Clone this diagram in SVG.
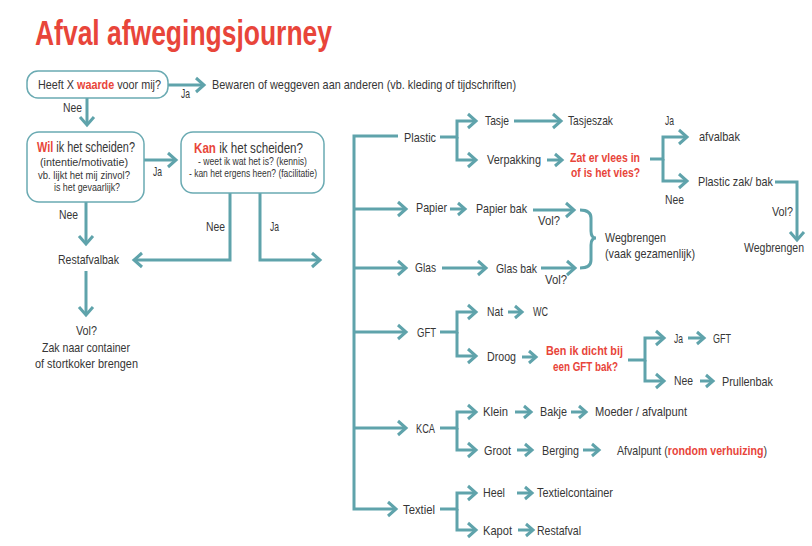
<svg xmlns="http://www.w3.org/2000/svg" width="812" height="546" viewBox="0 0 812 546">
<defs>
<style>
text{font-family:"Liberation Sans",Arial,sans-serif;font-size:13.5px;fill:#363636}
.t{font-size:35px;font-weight:bold;fill:#e8453a}
.r{fill:#e8453a;font-weight:bold}
.s{font-size:11px}
.m{font-size:14.5px}
.box{fill:#fff;stroke:#6aaab2;stroke-width:1.5}
.ln{fill:none;stroke:#5fa3ab;stroke-width:3;stroke-linejoin:miter}
.a{marker-end:url(#ah)}
.b{marker-end:url(#as)}
</style>
<marker id="ah" markerUnits="userSpaceOnUse" markerWidth="16" markerHeight="20" viewBox="-3 -10 16 20" refX="8" refY="0" orient="auto"><path d="M0,-7 L8,0 L0,7" fill="none" stroke="#5fa3ab" stroke-width="3"/></marker>
<marker id="as" markerUnits="userSpaceOnUse" markerWidth="16" markerHeight="20" viewBox="-3 -10 16 20" refX="7" refY="0" orient="auto"><path d="M0,-6 L7,0 L0,6" fill="none" stroke="#5fa3ab" stroke-width="3"/></marker>
</defs>
<rect width="812" height="546" fill="#fff"/>
<text class="t" x="35" y="45" textLength="297" lengthAdjust="spacingAndGlyphs">Afval afwegingsjourney</text>

<g id="connectors">
<path class="ln a" d="M168,85 H204"/>
<path class="ln a" d="M87,98 V125"/>
<path class="ln a" d="M144,160 H176"/>
<path class="ln a" d="M86,202 V244"/>
<path class="ln a" d="M230,193 V260 H134"/>
<path class="ln a" d="M260,193 V260 H320"/>
<path class="ln a" d="M86,271 V315"/>
<path class="ln a" d="M398,136 H354 V509 H396"/>
<path class="ln a" d="M354,209 H406"/>
<path class="ln a" d="M354,268 H406"/>
<path class="ln a" d="M354,332 H406"/>
<path class="ln a" d="M354,428 H406"/>
<path class="ln a" d="M440,137 H457 V121 H476"/>
<path class="ln a" d="M457,137 V160 H476"/>
<path class="ln a" d="M514,121 H561"/>
<path class="ln b" d="M547,160 H562"/>
<path class="ln a" d="M650,159 H663 V137 H687"/>
<path class="ln a" d="M663,159 V181 H687"/>
<path class="ln a" d="M775,182 H797 V240"/>
<path class="ln b" d="M450,209 H465"/>
<path class="ln a" d="M533,210 H574"/>
<path class="ln a" d="M442,268 H486"/>
<path class="ln a" d="M541,268 H575"/>
<path class="ln" d="M580,210 Q591,210 591,218 V231 Q591,238 596,238 Q591,238 591,245 V260 Q591,268 580,268"/>
<path class="ln a" d="M440,332 H457 V312 H476"/>
<path class="ln a" d="M457,332 V356 H476"/>
<path class="ln b" d="M508,312 H522"/>
<path class="ln b" d="M522,357 H536"/>
<path class="ln a" d="M628,360 H645 V338 H664"/>
<path class="ln a" d="M645,360 V381 H664"/>
<path class="ln b" d="M688,338 H704"/>
<path class="ln b" d="M700,381 H713"/>
<path class="ln a" d="M440,428 H457 V412 H476"/>
<path class="ln a" d="M457,428 V450 H476"/>
<path class="ln b" d="M515,412 H531"/>
<path class="ln b" d="M571,412 H586"/>
<path class="ln b" d="M517,450 H532"/>
<path class="ln b" d="M583,450 H599"/>
<path class="ln a" d="M440,509 H457 V493 H476"/>
<path class="ln a" d="M457,509 V530 H476"/>
<path class="ln b" d="M517,493 H532"/>
<path class="ln b" d="M518,530 H533"/>
</g>

<g id="labels">
<text x="181" y="98" textLength="9" lengthAdjust="spacingAndGlyphs">Ja</text>
<text x="63" y="112" textLength="19" lengthAdjust="spacingAndGlyphs">Nee</text>
<text x="153" y="176" textLength="9" lengthAdjust="spacingAndGlyphs">Ja</text>
<text x="59" y="219" textLength="19" lengthAdjust="spacingAndGlyphs">Nee</text>
<text x="206" y="231" textLength="19" lengthAdjust="spacingAndGlyphs">Nee</text>
<text x="270" y="231" textLength="9" lengthAdjust="spacingAndGlyphs">Ja</text>
<text x="538" y="225" textLength="22" lengthAdjust="spacingAndGlyphs">Vol?</text>
<text x="545" y="284" textLength="22" lengthAdjust="spacingAndGlyphs">Vol?</text>
<text x="665" y="125" textLength="9" lengthAdjust="spacingAndGlyphs">Ja</text>
<text x="665" y="204" textLength="19" lengthAdjust="spacingAndGlyphs">Nee</text>
<text x="772" y="216" textLength="21" lengthAdjust="spacingAndGlyphs">Vol?</text>
</g>

<g id="n-waarde">
<rect class="box" x="27" y="71" width="141" height="27" rx="11"/>
<text x="38" y="89" textLength="123" lengthAdjust="spacingAndGlyphs">Heeft X <tspan class="r">waarde</tspan> voor mij?</text>
</g>
<g id="n-bewaren"><text x="212" y="89" textLength="304" lengthAdjust="spacingAndGlyphs">Bewaren of weggeven aan anderen (vb. kleding of tijdschriften)</text></g>
<g id="n-wil">
<rect class="box" x="27" y="132" width="117" height="70" rx="12"/>
<text class="m" x="37" y="152" textLength="98" lengthAdjust="spacingAndGlyphs"><tspan class="r">Wil</tspan> ik het scheiden?</text>
<text class="s" x="40" y="166" textLength="88" lengthAdjust="spacingAndGlyphs">(intentie/motivatie)</text>
<text class="s" x="38" y="179" textLength="92" lengthAdjust="spacingAndGlyphs">vb. lijkt het mij zinvol?</text>
<text class="s" x="54" y="191" textLength="66" lengthAdjust="spacingAndGlyphs">is het gevaarlijk?</text>
</g>
<g id="n-kan">
<rect class="box" x="181" y="132" width="143" height="61" rx="12"/>
<text class="m" x="194" y="153" textLength="109" lengthAdjust="spacingAndGlyphs"><tspan class="r">Kan</tspan> ik het scheiden?</text>
<text class="s" x="198" y="165" textLength="109" lengthAdjust="spacingAndGlyphs">- weet ik wat het is? (kennis)</text>
<text class="s" x="189" y="177" textLength="128" lengthAdjust="spacingAndGlyphs">- kan het ergens heen? (facilitatie)</text>
</g>
<g id="n-restafvalbak"><text x="58" y="264" textLength="61" lengthAdjust="spacingAndGlyphs">Restafvalbak</text></g>
<g id="n-vol">
<text x="76" y="335" textLength="21" lengthAdjust="spacingAndGlyphs">Vol?</text>
<text x="42" y="352" textLength="88" lengthAdjust="spacingAndGlyphs">Zak naar container</text>
<text x="35" y="368" textLength="103" lengthAdjust="spacingAndGlyphs">of stortkoker brengen</text>
</g>

<g id="n-plastic"><text x="404" y="142" textLength="32" lengthAdjust="spacingAndGlyphs">Plastic</text></g>
<g id="n-tasje"><text x="485" y="125" textLength="24" lengthAdjust="spacingAndGlyphs">Tasje</text></g>
<g id="n-tasjeszak"><text x="568" y="125" textLength="45" lengthAdjust="spacingAndGlyphs">Tasjeszak</text></g>
<g id="n-verpakking"><text x="487" y="164" textLength="54" lengthAdjust="spacingAndGlyphs">Verpakking</text></g>
<g id="n-vlees">
<text class="r" x="570" y="162" textLength="70" lengthAdjust="spacingAndGlyphs">Zat er vlees in</text>
<text class="r" x="571" y="177" textLength="69" lengthAdjust="spacingAndGlyphs">of is het vies?</text>
</g>
<g id="n-afvalbak"><text x="699" y="141" textLength="41" lengthAdjust="spacingAndGlyphs">afvalbak</text></g>
<g id="n-plasticzak"><text x="698" y="186" textLength="75" lengthAdjust="spacingAndGlyphs">Plastic zak/ bak</text></g>
<g id="n-wegbrengen1"><text x="744" y="252" textLength="60" lengthAdjust="spacingAndGlyphs">Wegbrengen</text></g>

<g id="n-papier"><text x="416" y="212" textLength="31" lengthAdjust="spacingAndGlyphs">Papier</text></g>
<g id="n-papierbak"><text x="476" y="213" textLength="51" lengthAdjust="spacingAndGlyphs">Papier bak</text></g>
<g id="n-glas"><text x="415" y="272" textLength="21" lengthAdjust="spacingAndGlyphs">Glas</text></g>
<g id="n-glasbak"><text x="496" y="273" textLength="41" lengthAdjust="spacingAndGlyphs">Glas bak</text></g>
<g id="n-wegbrengen2">
<text x="605" y="242" textLength="61" lengthAdjust="spacingAndGlyphs">Wegbrengen</text>
<text x="605" y="258" textLength="90" lengthAdjust="spacingAndGlyphs">(vaak gezamenlijk)</text>
</g>

<g id="n-gft"><text x="417" y="337" textLength="19" lengthAdjust="spacingAndGlyphs">GFT</text></g>
<g id="n-nat"><text x="487" y="316" textLength="16" lengthAdjust="spacingAndGlyphs">Nat</text></g>
<g id="n-wc"><text x="533" y="316" textLength="15" lengthAdjust="spacingAndGlyphs">WC</text></g>
<g id="n-droog"><text x="487" y="361" textLength="29" lengthAdjust="spacingAndGlyphs">Droog</text></g>
<g id="n-dichtbij">
<text class="r" x="546" y="355" textLength="77" lengthAdjust="spacingAndGlyphs">Ben ik dicht bij</text>
<text class="r" x="553" y="371" textLength="65" lengthAdjust="spacingAndGlyphs">een GFT bak?</text>
</g>
<g id="n-ja"><text x="674" y="343" textLength="9" lengthAdjust="spacingAndGlyphs">Ja</text></g>
<g id="n-gft2"><text x="713" y="343" textLength="18" lengthAdjust="spacingAndGlyphs">GFT</text></g>
<g id="n-nee"><text x="674" y="385" textLength="19" lengthAdjust="spacingAndGlyphs">Nee</text></g>
<g id="n-prullenbak"><text x="722" y="386" textLength="51" lengthAdjust="spacingAndGlyphs">Prullenbak</text></g>

<g id="n-kca"><text x="416" y="433" textLength="19" lengthAdjust="spacingAndGlyphs">KCA</text></g>
<g id="n-klein"><text x="483" y="416" textLength="25" lengthAdjust="spacingAndGlyphs">Klein</text></g>
<g id="n-bakje"><text x="540" y="416" textLength="27" lengthAdjust="spacingAndGlyphs">Bakje</text></g>
<g id="n-moeder"><text x="595" y="416" textLength="92" lengthAdjust="spacingAndGlyphs">Moeder / afvalpunt</text></g>
<g id="n-groot"><text x="484" y="455" textLength="27" lengthAdjust="spacingAndGlyphs">Groot</text></g>
<g id="n-berging"><text x="542" y="455" textLength="37" lengthAdjust="spacingAndGlyphs">Berging</text></g>
<g id="n-afvalpunt">
<text x="617" y="455" textLength="150" lengthAdjust="spacingAndGlyphs">Afvalpunt (<tspan class="r">rondom verhuizing</tspan>)</text>
</g>

<g id="n-textiel"><text x="403" y="514" textLength="32" lengthAdjust="spacingAndGlyphs">Textiel</text></g>
<g id="n-heel"><text x="483" y="497" textLength="22" lengthAdjust="spacingAndGlyphs">Heel</text></g>
<g id="n-textielcontainer"><text x="537" y="497" textLength="76" lengthAdjust="spacingAndGlyphs">Textielcontainer</text></g>
<g id="n-kapot"><text x="483" y="535" textLength="29" lengthAdjust="spacingAndGlyphs">Kapot</text></g>
<g id="n-restafval"><text x="537" y="535" textLength="44" lengthAdjust="spacingAndGlyphs">Restafval</text></g>
</svg>
